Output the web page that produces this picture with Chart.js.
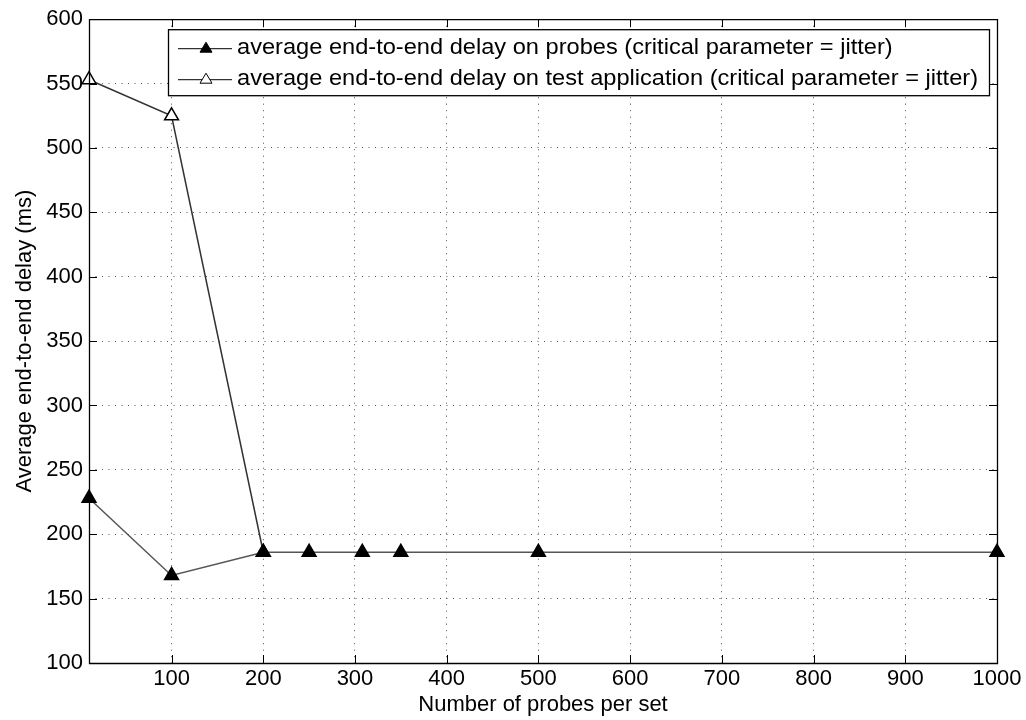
<!DOCTYPE html>
<html>
<head>
<meta charset="utf-8">
<script src="https://cdn.jsdelivr.net/npm/chart.js@4.4.0/dist/chart.umd.min.js"></script>
<style>
  html, body { margin: 0; padding: 0; background: #fff; }
  #wrap { width: 1026px; height: 720px; }
</style>
</head>
<body>
<div id="wrap"><canvas id="delayChart"></canvas></div>
<script>
// data
const probesX = [10, 100, 200, 250, 308, 350, 500, 1000];
const probesDelay = [228, 168, 186, 186, 186, 186, 186, 186];
const appX = [10, 100, 200];
const appDelay = [553, 525, 186];
const xTicks = [100, 200, 300, 400, 500, 600, 700, 800, 900, 1000];
const yTicks = [100, 150, 200, 250, 300, 350, 400, 450, 500, 550, 600];
const seriesLabels = [
  'average end-to-end delay on probes (critical parameter = jitter)',
  'average end-to-end delay on test application (critical parameter = jitter)'
];

const FONT = '"Liberation Sans", Arial, Helvetica, sans-serif';

// matlab style frame: top/right border and inward tick marks
const frameTicks = {
  id: 'frameTicks',
  afterDatasetsDraw(chart) {
    const { ctx, chartArea: a, scales: { x, y } } = chart;
    ctx.save();
    ctx.strokeStyle = '#000';
    ctx.lineWidth = 1.3;
    ctx.beginPath();
    ctx.rect(a.left + 0.5, a.top + 0.5, a.right - a.left, a.bottom - a.top);
    ctx.stroke();
    ctx.lineWidth = 1;
    ctx.beginPath();
    xTicks.forEach(v => {
      const px = Math.round(x.getPixelForValue(v)) + 0.5;
      ctx.moveTo(px, a.bottom); ctx.lineTo(px, a.bottom - 8);
      ctx.moveTo(px, a.top); ctx.lineTo(px, a.top + 8);
    });
    yTicks.forEach(v => {
      const py = Math.round(y.getPixelForValue(v)) + 0.5;
      ctx.moveTo(a.left, py); ctx.lineTo(a.left + 8, py);
      ctx.moveTo(a.right, py); ctx.lineTo(a.right - 8, py);
    });
    ctx.stroke();
    ctx.restore();
  }
};

// boxed legend in the upper part of the plot
const boxLegend = {
  id: 'boxLegend',
  afterDraw(chart) {
    const { ctx, chartArea: a } = chart;
    const bx = a.left + 79, by = a.top + 10, bw = 821, bh = 66;
    ctx.save();
    ctx.fillStyle = '#fff';
    ctx.fillRect(bx, by, bw, bh);
    ctx.strokeStyle = '#000';
    ctx.lineWidth = 1.3;
    ctx.strokeRect(bx + 0.5, by + 0.5, bw, bh);
    ctx.font = '22px ' + FONT;
    ctx.textBaseline = 'middle';
    const widest = Math.max(...chart.data.datasets.map(ds => ctx.measureText(ds.label).width));
    const sx = 741 / widest;
    chart.data.datasets.forEach((ds, i) => {
      const cy = by + 19 + i * 31;
      ctx.strokeStyle = '#333';
      ctx.lineWidth = 1.2;
      ctx.beginPath();
      ctx.moveTo(bx + 10, cy + 0.5); ctx.lineTo(bx + 64, cy + 0.5);
      ctx.stroke();
      const mx = bx + 38;
      ctx.beginPath();
      ctx.moveTo(mx, cy - 6); ctx.lineTo(mx + 6, cy + 4); ctx.lineTo(mx - 6, cy + 4); ctx.closePath();
      ctx.fillStyle = ds.pointBackgroundColor;
      ctx.fill();
      ctx.strokeStyle = '#000';
      ctx.lineWidth = 1;
      ctx.stroke();
      ctx.fillStyle = '#000';
      ctx.save();
      ctx.translate(bx + 69, cy);
      ctx.scale(sx, 1);
      ctx.fillText(ds.label, 0, 0);
      ctx.restore();
    });
    ctx.restore();
  }
};

new Chart(document.getElementById('delayChart'), {
  type: 'line',
  data: {
    datasets: [
      {
        label: seriesLabels[0],
        data: probesX.map((v, i) => ({ x: v, y: probesDelay[i] })),
        borderColor: '#555',
        borderWidth: 1.5,
        pointStyle: 'triangle',
        pointRadius: 8,
        pointBackgroundColor: '#000',
        pointBorderColor: '#000',
        clip: false,
        tension: 0
      },
      {
        label: seriesLabels[1],
        data: appX.map((v, i) => ({ x: v, y: appDelay[i] })),
        borderColor: '#333',
        borderWidth: 1.5,
        pointStyle: 'triangle',
        pointRadius: 8,
        pointBackgroundColor: '#fff',
        pointBorderColor: '#000',
        clip: false,
        tension: 0
      }
    ]
  },
  options: {
    responsive: true,
    maintainAspectRatio: false,
    animation: false,
    layout: { padding: { top: 17, right: 29, left: 0, bottom: 0 } },
    plugins: {
      legend: { display: false },
      tooltip: { enabled: false }
    },
    scales: {
      x: {
        type: 'linear',
        min: 10,
        max: 1000,
        afterBuildTicks: (s) => { s.ticks = xTicks.map(v => ({ value: v })); },
        afterFit: (s) => { s.height = 57; },
        grid: { color: '#555', lineWidth: 1, drawTicks: false },
        border: { display: false, dash: [1, 5.5] },
        ticks: { color: '#000', font: { family: FONT, size: 22 }, padding: 3, maxRotation: 0, callback: (v) => String(v) },
        title: { display: true, text: 'Number of probes per set', color: '#000', font: { family: FONT, size: 22 }, padding: { top: 0, bottom: 2 } }
      },
      y: {
        min: 100,
        max: 600,
        afterBuildTicks: (s) => { s.ticks = yTicks.map(v => ({ value: v })); },
        afterFit: (s) => { s.width = 89; },
        grid: { color: '#555', lineWidth: 1, drawTicks: false },
        border: { display: false, dash: [1, 5.5] },
        ticks: { color: '#000', font: { family: FONT, size: 22 }, padding: 6, callback: (v) => String(v) },
        title: { display: true, text: 'Average end-to-end delay (ms)', color: '#000', font: { family: FONT, size: 22 }, padding: { top: 12, bottom: 0 } }
      }
    }
  },
  plugins: [frameTicks, boxLegend]
});
</script>
</body>
</html>
